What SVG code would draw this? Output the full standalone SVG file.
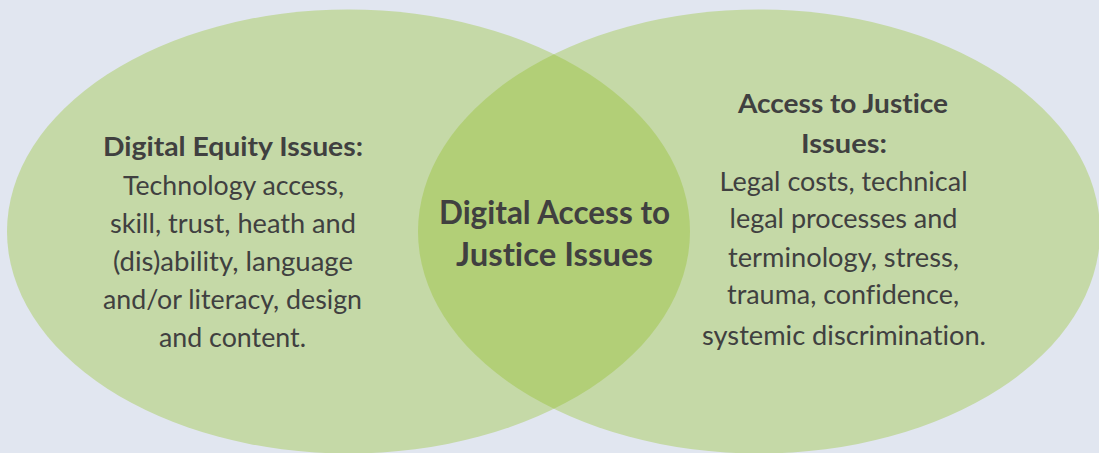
<svg xmlns="http://www.w3.org/2000/svg" width="1099" height="453" viewBox="0 0 1099 453">
  <style>
    .bg { fill: #e1e6f0; }
    .set { fill: #c5d9a7; }
    .lens { fill: #b2cf77; }
    text { font-family: Lato, "Liberation Sans", sans-serif; fill: #404040; text-anchor: middle; font-variant-ligatures: none; font-feature-settings: "liga" 0, "clig" 0, "dlig" 0; }
    .body { font-size: 26.5px; font-weight: 400; }
    .head { font-size: 26.5px; font-weight: 700; }
    .core { font-size: 32px; font-weight: 700; }
  </style>
  <defs>
    <clipPath id="leftClip">
      <ellipse cx="348.5" cy="231.5" rx="341.5" ry="222"/>
    </clipPath>
  </defs>

  <rect class="bg" x="0" y="0" width="1099" height="453"/>

  <!-- Left set: digital equity -->
  <g id="digital-equity">
    <ellipse class="set" cx="348.5" cy="231.5" rx="341.5" ry="222"/>
    <text class="head" x="233" y="156" textLength="260" lengthAdjust="spacingAndGlyphs">Digital Equity Issues:</text>
    <text class="body" x="233.5" y="194.5" textLength="221" lengthAdjust="spacingAndGlyphs">Technology access,</text>
    <text class="body" x="233" y="233" textLength="246" lengthAdjust="spacingAndGlyphs">skill, trust, heath and</text>
    <text class="body" x="233" y="270.5" textLength="240" lengthAdjust="spacingAndGlyphs">(dis)ability, language</text>
    <text class="body" x="232.5" y="308.5" textLength="259" lengthAdjust="spacingAndGlyphs">and/or literacy, design</text>
    <text class="body" x="232.5" y="347" textLength="147" lengthAdjust="spacingAndGlyphs">and content.</text>
  </g>

  <!-- Right set: access to justice -->
  <g id="access-to-justice">
    <ellipse class="set" cx="759" cy="231.5" rx="341" ry="222"/>
    <text class="head" x="843" y="113" textLength="210" lengthAdjust="spacingAndGlyphs">Access to Justice</text>
    <text class="head" x="844" y="153" textLength="86" lengthAdjust="spacingAndGlyphs">Issues:</text>
    <text class="body" x="843.5" y="191" textLength="248" lengthAdjust="spacingAndGlyphs">Legal costs, technical</text>
    <text class="body" x="843.5" y="228" textLength="228" lengthAdjust="spacingAndGlyphs">legal processes and</text>
    <text class="body" x="843.5" y="266.5" textLength="231" lengthAdjust="spacingAndGlyphs">terminology, stress,</text>
    <text class="body" x="843" y="304" textLength="232" lengthAdjust="spacingAndGlyphs">trauma, confidence,</text>
    <text class="body" x="844" y="345" textLength="284" lengthAdjust="spacingAndGlyphs">systemic discrimination.</text>
  </g>

  <!-- Overlap of the two sets -->
  <g id="digital-access-to-justice">
    <ellipse class="lens" cx="759" cy="231.5" rx="341" ry="222" clip-path="url(#leftClip)"/>
    <text class="core" x="554.5" y="224" textLength="231" lengthAdjust="spacingAndGlyphs">Digital Access to</text>
    <text class="core" x="554.5" y="265.5" textLength="197" lengthAdjust="spacingAndGlyphs">Justice Issues</text>
  </g>

  <g id="connectors"/>
</svg>
